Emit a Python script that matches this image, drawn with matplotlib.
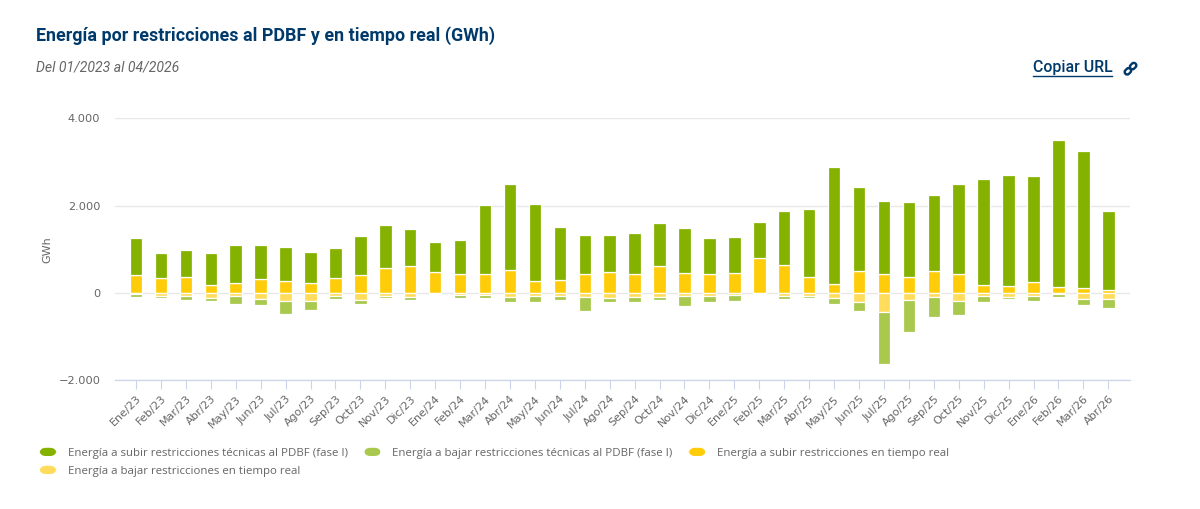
import matplotlib
matplotlib.use('Agg')
import numpy as np
import matplotlib.pyplot as plt
from matplotlib.legend_handler import HandlerPatch
from matplotlib.patches import FancyBboxPatch
from matplotlib.transforms import Affine2D, ScaledTranslation

W, H = 1200, 509

months = ['Ene/23', 'Feb/23', 'Mar/23', 'Abr/23', 'May/23', 'Jun/23', 'Jul/23', 'Ago/23', 'Sep/23', 'Oct/23',
          'Nov/23', 'Dic/23', 'Ene/24', 'Feb/24', 'Mar/24', 'Abr/24', 'May/24', 'Jun/24', 'Jul/24', 'Ago/24',
          'Sep/24', 'Oct/24', 'Nov/24', 'Dic/24', 'Ene/25', 'Feb/25', 'Mar/25', 'Abr/25', 'May/25', 'Jun/25',
          'Jul/25', 'Ago/25', 'Sep/25', 'Oct/25', 'Nov/25', 'Dic/25', 'Ene/26', 'Feb/26', 'Mar/26', 'Abr/26']

subir_pdbf = [855, 580, 625, 733, 862, 771, 786, 701, 694, 885,
              977, 855, 679, 786, 1572, 1953, 1755, 1206, 886, 840,
              946, 976, 1023, 832, 817, 816, 1228, 1564, 2679, 1915,
              1656, 1709, 1740, 2060, 2427, 2540, 2426, 3358, 3129, 1808]
subir_real = [404, 336, 359, 183, 237, 328, 267, 237, 336, 420,
              580, 610, 488, 427, 442, 534, 282, 305, 442, 488,
              427, 626, 465, 427, 465, 809, 649, 359, 198, 504,
              442, 374, 496, 427, 175, 153, 244, 137, 114, 69]
bajar_real = [25, 60, 76, 107, 76, 130, 191, 191, 76, 153,
              60, 84, 30, 53, 38, 92, 69, 69, 84, 114,
              92, 84, 69, 69, 38, 23, 76, 69, 114, 198,
              443, 168, 84, 191, 69, 92, 69, 30, 130, 130]
bajar_pdbf = [67, 55, 84, 76, 176, 145, 282, 198, 61, 99,
              55, 76, 16, 54, 84, 114, 137, 91, 320, 92,
              114, 76, 229, 137, 145, 23, 61, 53, 138, 214,
              1175, 717, 458, 313, 137, 45, 114, 62, 145, 213]

yticks = [-2000, 0, 2000, 4000]
ylabels = ['\u22122.000', '0', '2.000', '4.000']

GREEN = '#85b200'
LGREEN = '#a9c94e'
YELLOW = '#ffcc0a'
LYELLOW = '#ffdc5c'
NAVY = '#003a6b'
GREY = '#666666'

plt.rcParams['font.family'] = ['DejaVu Sans']


def px_text(x, y, s, **kw):
    return fig.text(x / W, 1 - y / H, s, **kw)


class PillHandler(HandlerPatch):
    def create_artists(self, legend, orig, xd, yd, width, height, fontsize, trans):
        p = FancyBboxPatch((-xd + 3, -yd + 3), width - 6, height - 6,
                           boxstyle='round,pad=3,rounding_size=4.5',
                           facecolor=orig.get_facecolor(), edgecolor='none', transform=trans)
        return [p]


fig = plt.figure(figsize=(W / 100, H / 100), dpi=100)
left, right, top, bottom = 115, 1130, 118.3, 380.3
ax = fig.add_axes([left / W, 1 - bottom / H, (right - left) / W, (bottom - top) / H])

x = np.arange(len(months))
width = 0.5
bar_style = dict(width=width, edgecolor='white', linewidth=0.9, zorder=3)
neg_real = -np.array(bajar_real)
neg_pdbf = -np.array(bajar_pdbf)
b1 = ax.bar(x, subir_real, color=YELLOW, **bar_style)
b2 = ax.bar(x, subir_pdbf, bottom=subir_real, color=GREEN, **bar_style)
b3 = ax.bar(x, neg_real, color=LYELLOW, **bar_style)
b4 = ax.bar(x, neg_pdbf, bottom=neg_real, color=LGREEN, **bar_style)

ax.set_xlim(-0.842, 39.87)
ax.set_ylim(-2000, 4000)
ax.set_yticks(yticks)
ax.set_yticklabels(ylabels, fontsize=8.2, color=GREY)
ax.set_xticks(x)
ax.set_xticklabels(months, rotation=45, ha='right', rotation_mode='anchor', fontsize=8, color=GREY)
shift = ScaledTranslation(-2 / 100, 0, fig.dpi_scale_trans)
for lab in ax.get_xticklabels():
    lab.set_transform(lab.get_transform() + shift)
ax.tick_params(axis='y', length=0, pad=10.5)
ax.tick_params(axis='x', length=6.5, width=0.8, color='#ccd6eb', pad=3)
ax.grid(axis='y', color='#e8e8e8', linewidth=1, zorder=0)
ax.set_axisbelow(True)
for side in ['top', 'right', 'left']:
    ax.spines[side].set_visible(False)
ax.spines['bottom'].set_color('#ccd6eb')
ax.spines['bottom'].set_linewidth(0.9)

px_text(47, 249.5, 'GWh', rotation=90, ha='center', va='center', fontsize=8, color=GREY)

# first column holds items 1 and 4, same flow as the page
order = [b2[0], b3[0], b4[0], b1[0]]
order_labels = ['Energía a subir restricciones técnicas al PDBF (fase I)',
                'Energía a bajar restricciones en tiempo real',
                'Energía a bajar restricciones técnicas al PDBF (fase I)',
                'Energía a subir restricciones en tiempo real']
leg = fig.legend(order, order_labels, ncol=3, loc='upper left', bbox_to_anchor=(37.2 / W, 1 - 445.5 / H),
                 frameon=False, labelcolor=GREY, handlelength=1.47, handleheight=0.72,
                 handletextpad=1.0, columnspacing=1.4, labelspacing=0.6, borderpad=0.2, borderaxespad=0,
                 prop={'family': 'Open Sans', 'size': 8.28},
                 handler_map={type(b1[0]): PillHandler()})

px_text(36, 35.5, 'Energía por restricciones al PDBF y en tiempo real (GWh)', family='Roboto', weight='bold',
        fontsize=12.9, color=NAVY, ha='left', va='center')
px_text(36, 67, 'Del 01/2023 al 04/2026', family='Roboto', style='italic', fontsize=10.1, color=GREY,
        ha='left', va='center')
px_text(1033, 67.5, 'Copiar URL', family='Roboto', weight='medium', fontsize=11.4, color=NAVY,
        ha='left', va='center')
fig.add_artist(plt.Line2D([1033 / W, 1112 / W], [1 - 75.5 / H, 1 - 75.5 / H], color=NAVY, linewidth=1))

# link icon, two slanted pills
pixel = Affine2D().scale(1, -1).translate(0, H)
for cx, cy in [(1127.9, 71.3), (1133.1, 66.1)]:
    rot = Affine2D().rotate_deg_around(cx, cy, -45) + pixel
    fig.add_artist(FancyBboxPatch((cx - 3.5, cy - 2.5), 7, 5, boxstyle='round,pad=0,rounding_size=2.5',
                                  facecolor='none', edgecolor=NAVY, linewidth=1.7, transform=rot))

fig.savefig('out.png', dpi=100, facecolor='white')
